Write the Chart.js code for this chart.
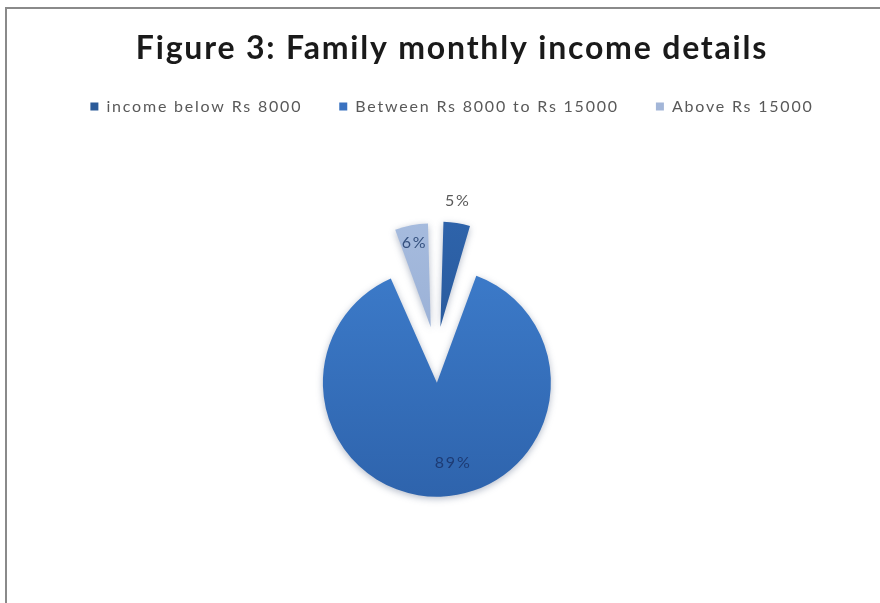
<!DOCTYPE html>
<html>
<head>
<meta charset="utf-8">
<script src="https://cdn.jsdelivr.net/npm/chart.js@4.4.1/dist/chart.umd.min.js"></script>
<style>
  html, body { margin: 0; padding: 0; background: #ffffff; }
  #wrap { position: relative; width: 880px; height: 603px; overflow: hidden; }
  #frame { position: absolute; left: 5px; top: 7px; right: -2px; bottom: -2px;
           border-left: 2px solid #8a8a8a; border-top: 2px solid #8a8a8a; pointer-events: none; }
  canvas { position: absolute; left: 0; top: 0; }
</style>
</head>
<body>
<div id="wrap">
  <canvas id="c" width="880" height="603"></canvas>
  <div id="frame"></div>
</div>
<script>
// Income groups and their share of families (%)
const categories = ['income below Rs 8000', 'Between Rs 8000 to Rs 15000', 'Above Rs 15000'];
const shares = [5, 89, 6];
const valueLabels = ['5%', '89%', '6%'];
const titleText = 'Figure 3: Family monthly income details';

// Slice fills: top and bottom stops of a soft vertical gradient, plus legend swatch
const sliceTop = ['#2f65ad', '#3d7ccb', '#a8bddf'];
const sliceBottom = ['#23508d', '#2c60a8', '#8da5ce'];
const swatch = ['#2b5a98', '#3a72c0', '#a3b6d8'];

function sliceFill(ctx) {
  const chart = ctx.chart;
  const i = ctx.dataIndex;
  const area = chart.chartArea;
  if (!area || i === undefined) return swatch[i] || swatch[0];
  const cy = (area.top + area.bottom) / 2;
  const g = chart.ctx.createLinearGradient(0, cy - 130, 0, cy + 150);
  g.addColorStop(0, sliceTop[i]);
  g.addColorStop(1, sliceBottom[i]);
  return g;
}

// Slightly open lettering for all chart text
const textTracking = {
  id: 'textTracking',
  beforeUpdate(chart, args, opts) { chart.ctx.letterSpacing = opts.spacing; },
  beforeDraw(chart, args, opts) { chart.ctx.letterSpacing = opts.spacing; }
};

// Shift the plot area left so the pie sits slightly off the title's centre line
const plotShift = {
  id: 'plotShift',
  afterLayout(chart, args, opts) {
    chart.chartArea.left -= opts.dx;
    chart.chartArea.right -= opts.dx;
  }
};

// Soft shadow under the slices
const sliceShadow = {
  id: 'sliceShadow',
  beforeDatasetsDraw(chart) {
    const c = chart.ctx;
    c.save();
    c.shadowColor = 'rgba(40,60,100,0.35)';
    c.shadowBlur = 7;
    c.shadowOffsetY = 2;
  },
  afterDatasetsDraw(chart) {
    chart.ctx.restore();
  }
};

// Percentage labels placed along each slice's bisector, measured from its own tip
const sliceLabels = {
  id: 'sliceLabels',
  afterDatasetsDraw(chart, args, opts) {
    const c = chart.ctx;
    const meta = chart.getDatasetMeta(0);
    meta.data.forEach((arc, i) => {
      const p = arc.getProps(['x', 'y', 'startAngle', 'endAngle'], true);
      const place = opts.place[i];
      const half = (p.startAngle + p.endAngle) / 2;
      const shift = (arc.options.offset || 0) / 4;
      const ox = p.x + Math.cos(half) * shift;
      const oy = p.y + Math.sin(half) * shift;
      const a = half + place.turn;
      c.save();
      c.font = opts.font;
      c.fillStyle = place.color;
      c.textAlign = 'center';
      c.textBaseline = 'middle';
      c.fillText(valueLabels[i], ox + Math.cos(a) * place.dist, oy + Math.sin(a) * place.dist);
      c.restore();
    });
  }
};

new Chart(document.getElementById('c'), {
  type: 'pie',
  data: {
    labels: categories,
    datasets: [{
      data: shares,
      backgroundColor: sliceFill,
      borderWidth: 0,
      offset: 112,
      hoverOffset: 112
    }]
  },
  options: {
    responsive: false,
    animation: false,
    radius: 86,
    events: [],
    layout: { padding: { left: 24, right: 0, top: 8, bottom: 18 } },
    plugins: {
      textTracking: { spacing: '1.8px' },
      plotShift: { dx: 16 },
      sliceLabels: {
        font: '16px Lato, "Open Sans", sans-serif',
        place: [
          { dist: 127, turn: -0.019, color: '#595959' },
          { dist: 82, turn: -0.168, color: '#1d3b74' },
          { dist: 86, turn: 0, color: '#34507e' }
        ]
      },
      title: {
        display: true,
        text: titleText,
        color: '#1a1a1a',
        font: { family: 'Lato, "Open Sans", sans-serif', size: 32, weight: 'bold', lineHeight: 1.2 },
        padding: { top: 21, bottom: -6 }
      },
      legend: {
        display: true,
        position: 'top',
        labels: {
          color: '#595959',
          font: { family: 'Lato, "Open Sans", sans-serif', size: 16 },
          boxWidth: 8,
          boxHeight: 8,
          padding: 37,
          generateLabels(chart) {
            return categories.map((name, i) => ({
              text: name,
              fillStyle: swatch[i],
              strokeStyle: swatch[i],
              lineWidth: 0,
              hidden: false,
              index: i,
              fontColor: '#595959'
            }));
          }
        }
      },
      tooltip: { enabled: false }
    }
  },
  plugins: [textTracking, plotShift, sliceShadow, sliceLabels]
});
</script>
</body>
</html>
